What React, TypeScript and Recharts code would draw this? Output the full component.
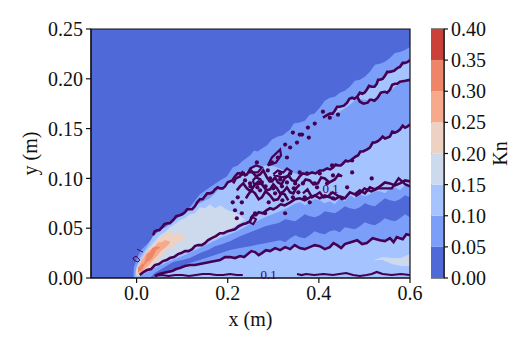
import React from "react";
import { ComposedChart, BarChart, Bar, Area, Line, Scatter, XAxis, YAxis, ReferenceArea, ReferenceDot } from "recharts";

const FONT = "'Liberation Serif', serif";
const INK = "#111111";
const PURPLE = "#440154";
const COLORS = ["#4f69d9", "#7b9ff9", "#a5c3fe", "#cdd9ec", "#edd1c2", "#f7a98b", "#ee8468", "#cc403a"];

const xTicks = [0, 0.2, 0.4, 0.6];
const yTicks = [0, 0.05, 0.1, 0.15, 0.2, 0.25];
const barTicks = [0, 0.05, 0.1, 0.15, 0.2, 0.25, 0.3, 0.35, 0.4];
const levels = [0.05, 0.05, 0.05, 0.05, 0.05, 0.05, 0.05, 0.05];

type P = number[];

const bgEdge: P[] = [[-0.1, 0.25], [0.6, 0.25]];

const outerEdge: P[] = [[-0.007, 0], [-0.006, 0.01], [0.001, 0.02], [0.01, 0.028], [0.025, 0.035], [0.04, 0.043], [0.056, 0.048], [0.073, 0.055], [0.091, 0.061], [0.117, 0.071], [0.139, 0.084], [0.161, 0.091], [0.183, 0.098], [0.198, 0.102], [0.211, 0.111], [0.222, 0.113], [0.231, 0.117], [0.24, 0.12], [0.249, 0.123], [0.258, 0.128], [0.266, 0.127], [0.275, 0.13], [0.286, 0.133], [0.297, 0.139], [0.31, 0.142], [0.32, 0.143], [0.337, 0.149], [0.345, 0.155], [0.358, 0.156], [0.369, 0.158], [0.38, 0.164], [0.39, 0.165], [0.402, 0.171], [0.413, 0.178], [0.424, 0.181], [0.435, 0.182], [0.446, 0.186], [0.457, 0.188], [0.468, 0.192], [0.479, 0.198], [0.49, 0.199], [0.501, 0.202], [0.512, 0.207], [0.523, 0.214], [0.534, 0.215], [0.545, 0.217], [0.556, 0.221], [0.567, 0.226], [0.578, 0.227], [0.589, 0.229], [0.6, 0.232]];

const lightTopEdge: P[] = [[-0.003, 0.003], [-0.001, 0.01], [0.007, 0.02], [0.023, 0.031], [0.036, 0.042], [0.051, 0.048], [0.067, 0.052], [0.08, 0.056], [0.095, 0.062], [0.117, 0.068], [0.139, 0.075], [0.161, 0.08], [0.183, 0.09], [0.211, 0.1], [0.238, 0.107], [0.26, 0.111], [0.282, 0.113], [0.304, 0.112], [0.325, 0.108], [0.348, 0.105], [0.358, 0.103], [0.38, 0.106], [0.402, 0.108], [0.431, 0.111], [0.453, 0.115], [0.475, 0.12], [0.497, 0.127], [0.512, 0.131], [0.534, 0.139], [0.556, 0.142], [0.578, 0.149], [0.6, 0.154]];

const lightBottomEdge: P[] = [[0.007, 0.002], [0.023, 0.006], [0.04, 0.01], [0.073, 0.017], [0.106, 0.023], [0.139, 0.03], [0.183, 0.04], [0.216, 0.046], [0.249, 0.054], [0.282, 0.061], [0.315, 0.067], [0.33, 0.07], [0.345, 0.074], [0.358, 0.076], [0.37, 0.073], [0.38, 0.076], [0.39, 0.079], [0.402, 0.078], [0.412, 0.075], [0.424, 0.077], [0.435, 0.074], [0.446, 0.08], [0.457, 0.077], [0.468, 0.083], [0.479, 0.08], [0.49, 0.084], [0.501, 0.082], [0.512, 0.084], [0.523, 0.087], [0.534, 0.087], [0.545, 0.085], [0.556, 0.09], [0.567, 0.091], [0.578, 0.088], [0.589, 0.093], [0.6, 0.092]];

const darkTopEdge: P[] = [[0.029, 0], [0.04, 0.005], [0.062, 0.011], [0.08, 0.016], [0.1, 0.018], [0.117, 0.02], [0.139, 0.025], [0.157, 0.028], [0.172, 0.032], [0.187, 0.034], [0.205, 0.037], [0.227, 0.042], [0.249, 0.046], [0.266, 0.049], [0.282, 0.052], [0.299, 0.054], [0.31, 0.055], [0.315, 0.056], [0.326, 0.059], [0.337, 0.058], [0.348, 0.057], [0.358, 0.06], [0.369, 0.064], [0.38, 0.062], [0.391, 0.061], [0.402, 0.063], [0.413, 0.067], [0.424, 0.066], [0.435, 0.065], [0.446, 0.068], [0.457, 0.072], [0.468, 0.07], [0.479, 0.069], [0.49, 0.071], [0.501, 0.075], [0.512, 0.073], [0.523, 0.072], [0.534, 0.076], [0.545, 0.08], [0.556, 0.078], [0.567, 0.077], [0.578, 0.079], [0.589, 0.083], [0.6, 0.081]];

const darkBotEdge: P[] = [[0.029, 0], [0.051, 0.001], [0.08, 0.009], [0.1, 0.012], [0.117, 0.015], [0.139, 0.018], [0.172, 0.023], [0.205, 0.028], [0.227, 0.03], [0.249, 0.032], [0.282, 0.035], [0.315, 0.038], [0.326, 0.036], [0.337, 0.04], [0.348, 0.043], [0.358, 0.041], [0.369, 0.04], [0.38, 0.043], [0.391, 0.047], [0.402, 0.045], [0.413, 0.044], [0.424, 0.047], [0.435, 0.048], [0.446, 0.046], [0.457, 0.051], [0.468, 0.05], [0.479, 0.049], [0.49, 0.052], [0.501, 0.056], [0.512, 0.054], [0.523, 0.053], [0.534, 0.056], [0.545, 0.06], [0.556, 0.058], [0.567, 0.057], [0.578, 0.06], [0.589, 0.064], [0.6, 0.061]];

const paleBand: P[] = [[0.001, 0.002, 0.008], [0.006, 0.002, 0.014], [0.012, 0.004, 0.018], [0.02, 0.006, 0.026], [0.029, 0.008, 0.031], [0.04, 0.012, 0.037], [0.051, 0.014, 0.043], [0.062, 0.017, 0.046], [0.073, 0.019, 0.051], [0.084, 0.02, 0.054], [0.095, 0.023, 0.058], [0.106, 0.026, 0.06], [0.117, 0.028, 0.064], [0.128, 0.03, 0.065], [0.139, 0.033, 0.071], [0.15, 0.036, 0.07], [0.161, 0.038, 0.074], [0.172, 0.039, 0.07], [0.183, 0.042, 0.073], [0.2, 0.048, 0.068], [0.216, 0.052, 0.066], [0.238, 0.059, 0.059]];
const paleSpot: P[] = [[0.52, 0.018, 0.018], [0.54, 0.018, 0.021], [0.56, 0.014, 0.02], [0.58, 0.012, 0.02], [0.6, 0.012, 0.024]];
const beigeBand: P[] = [[-0.001, 0.003, 0.008], [0.007, 0.004, 0.016], [0.018, 0.006, 0.024], [0.029, 0.01, 0.03], [0.04, 0.016, 0.034], [0.051, 0.02, 0.04], [0.062, 0.026, 0.044], [0.073, 0.03, 0.047], [0.082, 0.031, 0.043], [0.091, 0.036, 0.046], [0.1, 0.036, 0.043], [0.108, 0.04, 0.04]];
const orangeBand: P[] = [[0.003, 0.004, 0.01], [0.012, 0.006, 0.018], [0.02, 0.01, 0.024], [0.029, 0.014, 0.028], [0.038, 0.019, 0.03], [0.047, 0.023, 0.036], [0.055, 0.028, 0.036], [0.062, 0.03, 0.038], [0.073, 0.035, 0.037]];
const salmonBand: P[] = [[0.003, 0.006, 0.01], [0.012, 0.008, 0.014], [0.017, 0.013, 0.015], [0.023, 0.016, 0.024], [0.03, 0.018, 0.026], [0.034, 0.02, 0.03], [0.043, 0.028, 0.032], [0.051, 0.03, 0.031]];
const loopBand: P[] = [[0.424, 0.163, 0.165], [0.446, 0.167, 0.172], [0.468, 0.174, 0.178], [0.484, 0.18, 0.182], [0.501, 0.179, 0.188], [0.516, 0.178, 0.191], [0.534, 0.183, 0.198], [0.556, 0.188, 0.206], [0.578, 0.196, 0.211], [0.6, 0.198, 0.218]];

const l1: P[] = [[0.036, 0.043], [0.04, 0.047], [0.045, 0.048], [0.05, 0.048], [0.056, 0.051], [0.061, 0.054], [0.067, 0.055], [0.073, 0.055], [0.08, 0.058], [0.087, 0.062], [0.095, 0.063], [0.1, 0.064], [0.106, 0.066], [0.111, 0.069], [0.117, 0.069], [0.122, 0.069], [0.128, 0.072], [0.133, 0.076], [0.139, 0.079], [0.145, 0.079], [0.15, 0.082], [0.155, 0.085], [0.161, 0.085], [0.167, 0.086], [0.172, 0.089], [0.178, 0.091], [0.183, 0.09], [0.189, 0.09], [0.194, 0.092], [0.2, 0.096], [0.205, 0.097], [0.21, 0.098], [0.216, 0.102], [0.222, 0.105], [0.227, 0.105], [0.232, 0.104], [0.238, 0.106]];
const l1b: P[] = [[0.409, 0.161], [0.416, 0.163], [0.424, 0.165], [0.43, 0.165], [0.435, 0.168], [0.44, 0.172], [0.446, 0.172], [0.455, 0.173], [0.462, 0.176], [0.467, 0.18], [0.473, 0.181], [0.478, 0.18], [0.484, 0.182], [0.49, 0.186], [0.495, 0.185], [0.5, 0.186], [0.505, 0.189], [0.51, 0.193], [0.516, 0.192], [0.522, 0.192], [0.527, 0.195], [0.53, 0.199], [0.534, 0.199], [0.54, 0.2], [0.545, 0.203], [0.55, 0.207], [0.556, 0.207], [0.565, 0.208], [0.573, 0.211], [0.578, 0.212], [0.584, 0.216], [0.589, 0.216], [0.595, 0.217], [0.6, 0.219]];
const l1c: P[] = [[0.484, 0.182], [0.49, 0.177], [0.498, 0.175], [0.507, 0.176], [0.512, 0.179], [0.516, 0.179], [0.522, 0.178], [0.529, 0.181], [0.536, 0.186], [0.545, 0.187], [0.55, 0.186], [0.556, 0.189], [0.561, 0.194], [0.567, 0.195], [0.572, 0.195], [0.578, 0.197], [0.59, 0.198], [0.6, 0.199]];
const s1: P[] = [[0.212, 0.095], [0.218, 0.1], [0.227, 0.102], [0.232, 0.106], [0.238, 0.103], [0.242, 0.104], [0.249, 0.109], [0.255, 0.106], [0.262, 0.102], [0.271, 0.104], [0.278, 0.108], [0.286, 0.101], [0.292, 0.097], [0.297, 0.097], [0.304, 0.101], [0.31, 0.096], [0.318, 0.094], [0.325, 0.1], [0.333, 0.103], [0.341, 0.098], [0.35, 0.097], [0.358, 0.102], [0.365, 0.105], [0.375, 0.104], [0.385, 0.106], [0.393, 0.105], [0.402, 0.108], [0.41, 0.108], [0.418, 0.11], [0.425, 0.109], [0.431, 0.111], [0.437, 0.114], [0.442, 0.113], [0.448, 0.113], [0.453, 0.115], [0.459, 0.118], [0.464, 0.117], [0.47, 0.118], [0.475, 0.12], [0.481, 0.122], [0.486, 0.123], [0.491, 0.127], [0.497, 0.127], [0.505, 0.129], [0.512, 0.131], [0.518, 0.136], [0.523, 0.136], [0.528, 0.137], [0.534, 0.139], [0.54, 0.142], [0.545, 0.14], [0.551, 0.141], [0.556, 0.142], [0.561, 0.147], [0.567, 0.146], [0.572, 0.147], [0.578, 0.149], [0.584, 0.153], [0.589, 0.151], [0.594, 0.152], [0.6, 0.154]];
const s2: P[] = [[0.22, 0.088], [0.227, 0.092], [0.234, 0.095], [0.242, 0.09], [0.25, 0.087], [0.26, 0.094], [0.268, 0.097], [0.277, 0.093], [0.285, 0.088], [0.293, 0.089], [0.3, 0.094], [0.308, 0.09], [0.315, 0.085], [0.323, 0.087], [0.33, 0.091], [0.337, 0.086], [0.344, 0.085], [0.35, 0.09], [0.358, 0.094]];
const s3: P[] = [[0.24, 0.08], [0.244, 0.083], [0.252, 0.088], [0.26, 0.085], [0.268, 0.079], [0.275, 0.081], [0.283, 0.087], [0.293, 0.083], [0.301, 0.078], [0.31, 0.079], [0.318, 0.085], [0.325, 0.084], [0.333, 0.078]];
const s4: P[] = [[0.249, 0.11], [0.262, 0.113], [0.275, 0.111], [0.266, 0.106], [0.249, 0.106], [0.249, 0.11]];
const s5: P[] = [[0.288, 0.113], [0.297, 0.121], [0.315, 0.129], [0.317, 0.123], [0.306, 0.116], [0.288, 0.113]];
const s6: P[] = [[0.363, 0.094], [0.371, 0.099], [0.38, 0.098], [0.388, 0.094], [0.398, 0.095], [0.405, 0.101], [0.413, 0.1], [0.423, 0.096], [0.435, 0.099], [0.443, 0.104], [0.451, 0.102]];
const s7: P[] = [[0.365, 0.085], [0.375, 0.089], [0.385, 0.081], [0.393, 0.083], [0.402, 0.086], [0.41, 0.081], [0.42, 0.082], [0.43, 0.086], [0.44, 0.083], [0.45, 0.08]];
const s8: P[] = [[0.255, 0.098], [0.262, 0.101], [0.272, 0.099], [0.275, 0.095], [0.266, 0.094], [0.258, 0.094], [0.255, 0.098]];
const s9: P[] = [[0.3, 0.104], [0.31, 0.108], [0.322, 0.106], [0.33, 0.11], [0.34, 0.107], [0.332, 0.102], [0.318, 0.101], [0.3, 0.104]];
const l3: P[] = [[0.007, 0.003], [0.015, 0.006], [0.023, 0.008], [0.032, 0.009], [0.04, 0.013], [0.049, 0.014], [0.058, 0.017], [0.066, 0.018], [0.073, 0.02], [0.082, 0.021], [0.091, 0.024], [0.098, 0.025], [0.106, 0.027], [0.114, 0.027], [0.122, 0.029], [0.128, 0.032], [0.135, 0.033], [0.143, 0.033], [0.15, 0.035], [0.157, 0.038], [0.165, 0.04], [0.174, 0.042], [0.183, 0.045], [0.191, 0.045], [0.2, 0.047], [0.208, 0.048], [0.216, 0.049], [0.224, 0.052], [0.233, 0.054], [0.241, 0.055], [0.249, 0.057], [0.252, 0.061], [0.256, 0.063], [0.262, 0.063], [0.268, 0.066], [0.277, 0.065], [0.285, 0.068], [0.293, 0.07], [0.3, 0.069], [0.308, 0.071], [0.316, 0.074], [0.325, 0.073], [0.337, 0.076], [0.347, 0.079], [0.358, 0.08], [0.369, 0.078], [0.38, 0.081], [0.391, 0.083], [0.402, 0.08], [0.413, 0.083], [0.424, 0.081], [0.435, 0.079], [0.446, 0.082], [0.457, 0.08], [0.468, 0.086], [0.479, 0.084], [0.49, 0.088], [0.501, 0.085], [0.512, 0.091], [0.523, 0.089], [0.534, 0.092], [0.545, 0.096], [0.556, 0.095], [0.567, 0.093], [0.578, 0.095], [0.589, 0.098], [0.6, 0.097]];
const l3loop: P[] = [[0.247, 0.056], [0.255, 0.061], [0.262, 0.059], [0.256, 0.054], [0.247, 0.056]];
const l3twin: P[] = [[0.48, 0.082], [0.49, 0.085], [0.5, 0.09], [0.515, 0.087], [0.53, 0.09], [0.545, 0.09], [0.56, 0.09], [0.575, 0.1], [0.59, 0.094], [0.6, 0.092]];
const l4: P[] = [[0.04, 0.002], [0.05, 0.004], [0.058, 0.005], [0.068, 0.006], [0.078, 0.007], [0.087, 0.009], [0.095, 0.01], [0.106, 0.012], [0.117, 0.013], [0.128, 0.013], [0.139, 0.014], [0.15, 0.015], [0.161, 0.016], [0.172, 0.017], [0.183, 0.018], [0.194, 0.021], [0.205, 0.021], [0.216, 0.02], [0.227, 0.022], [0.236, 0.021], [0.244, 0.024], [0.252, 0.027], [0.26, 0.026], [0.268, 0.023], [0.275, 0.025], [0.284, 0.028], [0.293, 0.027], [0.304, 0.03], [0.315, 0.028], [0.326, 0.031], [0.337, 0.029], [0.347, 0.033], [0.358, 0.03], [0.369, 0.029], [0.38, 0.031], [0.391, 0.033], [0.402, 0.032], [0.413, 0.029], [0.424, 0.031], [0.432, 0.035], [0.44, 0.033], [0.449, 0.03], [0.457, 0.034], [0.47, 0.036], [0.484, 0.038], [0.495, 0.034], [0.505, 0.035], [0.518, 0.04], [0.534, 0.038], [0.545, 0.037], [0.556, 0.04], [0.564, 0.036], [0.571, 0.041], [0.584, 0.039], [0.592, 0.044], [0.6, 0.043]];
const l5a: P[] = [[0.04, 0.002], [0.055, 0.003], [0.07, 0.002], [0.085, 0.003], [0.1, 0.003], [0.115, 0.002], [0.13, 0.003], [0.145, 0.004], [0.16, 0.004], [0.175, 0.003], [0.19, 0.003], [0.205, 0.004], [0.22, 0.003], [0.233, 0.003]];
const l5b: P[] = [[0.352, 0.004], [0.362, 0.003], [0.372, 0.004], [0.39, 0.003], [0.41, 0.004], [0.431, 0.003], [0.445, 0.004], [0.46, 0.005], [0.475, 0.003], [0.49, 0.002], [0.505, 0.003], [0.516, 0.004], [0.527, 0.006], [0.54, 0.004], [0.56, 0.003], [0.58, 0.004], [0.6, 0.003]];
const h1: P[] = [[0.001, 0.029], [0.014, 0.026]];
const h2: P[] = [[-0.008, 0.02], [-0.001, 0.022], [0.007, 0.018], [0.003, 0.016], [-0.006, 0.018], [-0.008, 0.02]];

const spots: P[] = [[0.343, 0.146], [0.358, 0.144], [0.352, 0.136], [0.326, 0.134], [0.337, 0.131], [0.33, 0.121], [0.297, 0.116], [0.288, 0.108], [0.264, 0.116], [0.211, 0.076], [0.222, 0.081], [0.231, 0.076], [0.216, 0.068], [0.231, 0.065], [0.26, 0.065], [0.282, 0.065], [0.22, 0.06], [0.337, 0.105], [0.358, 0.106], [0.374, 0.105], [0.315, 0.105], [0.343, 0.081], [0.326, 0.065], [0.365, 0.095], [0.391, 0.095], [0.402, 0.105], [0.429, 0.113], [0.431, 0.103], [0.473, 0.106], [0.516, 0.1], [0.473, 0.118], [0.418, 0.095], [0.462, 0.091], [0.38, 0.076], [0.369, 0.081], [0.396, 0.091], [0.431, 0.08], [0.451, 0.08], [0.409, 0.167], [0.424, 0.161], [0.442, 0.164], [0.391, 0.155], [0.376, 0.151], [0.363, 0.144], [0.378, 0.141], [0.31, 0.121], [0.275, 0.096], [0.293, 0.1], [0.249, 0.095], [0.319, 0.092], [0.348, 0.095], [0.271, 0.088], [0.304, 0.085], [0.238, 0.098], [0.283, 0.092], [0.3, 0.09], [0.315, 0.099], [0.33, 0.096], [0.265, 0.091], [0.25, 0.092], [0.345, 0.09], [0.29, 0.076], [0.32, 0.078], [0.355, 0.086]];

const toLine = (pts: P[]) => pts.map(([x, y]) => ({ x, y }));
const toBand = (pts: P[]) => pts.map(([x, lo, hi]) => ({ x, y: [lo, hi] }));

const fills: [P[], string][] = [
  [bgEdge, COLORS[0]],
  [outerEdge, COLORS[1]],
  [lightTopEdge, COLORS[2]],
  [lightBottomEdge, COLORS[1]],
  [darkTopEdge, COLORS[0]],
  [darkBotEdge, COLORS[1]],
  [l4, COLORS[2]],
];
const bands: [P[], string][] = [
  [loopBand, COLORS[2]],
  [paleSpot, COLORS[3]],
  [paleBand, COLORS[3]],
  [beigeBand, COLORS[4]],
  [orangeBand, COLORS[5]],
  [salmonBand, COLORS[6]],
];
const contours: [P[], number][] = [
  [l1, 2.6], [l1b, 2.6], [l1c, 2.6], [s1, 2.6], [s2, 2.6], [s3, 2.6], [s4, 2.2], [s5, 2.2], [s6, 2.6], [s7, 2.4],
  [s8, 2.2], [s9, 2.2], [l3, 2.6], [l3loop, 2], [l3twin, 2.4], [l4, 2.6], [l5a, 2.2], [l5b, 2.2], [h1, 1], [h2, 1],
];

const tickStyle = { fontFamily: FONT, fontSize: 20, fill: INK };
const labelStyle = { fontFamily: FONT, fontSize: 20, fill: INK };
const axisLine = { stroke: INK, strokeWidth: 1.2 };
const colorbarRow = [Object.fromEntries(levels.map((v, i) => [`l${i}`, v] as [string, any]).concat([["name", "Kn"]]))];

export default function App() {
  return (
    <div style={{ position: "absolute", left: 0, top: 0, width: 531, height: 354 }}>
      <div style={{ position: "absolute", left: 0, top: 0 }}>
        <ComposedChart width={431} height={354} margin={{ top: 29, right: 21, bottom: 0, left: 0 }}>
          <XAxis type="number" dataKey="x" domain={[-0.1, 0.6]} ticks={xTicks} interval={0} height={76}
            tick={tickStyle} tickFormatter={(v: number) => v.toFixed(1)} axisLine={axisLine} tickLine={axisLine} tickSize={5} tickMargin={3}
            allowDataOverflow label={{ value: "x (m)", position: "insideBottom", offset: 28, style: labelStyle }} />
          <YAxis type="number" domain={[0, 0.25]} ticks={yTicks} interval={0} width={91}
            tick={tickStyle} tickFormatter={(v: number) => v.toFixed(2)} axisLine={axisLine} tickLine={axisLine} tickSize={5} tickMargin={3}
            allowDataOverflow label={{ value: "y (m)", angle: -90, position: "insideLeft", offset: 30, style: { ...labelStyle, textAnchor: "middle" } }} />
          {fills.map(([pts, c], i) => (
            <Area key={`f${i}`} data={toLine(pts)} dataKey="y" type="linear" fill={c} fillOpacity={1} stroke="none" isAnimationActive={false} dot={false} activeDot={false} />
          ))}
          {bands.map(([pts, c], i) => (
            <Area key={`b${i}`} data={toBand(pts)} dataKey="y" type="linear" fill={c} fillOpacity={1} stroke="none" isAnimationActive={false} dot={false} activeDot={false} />
          ))}
          {contours.map(([pts, w], i) => (
            <Line key={`c${i}`} data={toLine(pts)} dataKey="y" type="linear" stroke={PURPLE} strokeWidth={w} dot={false} activeDot={false} isAnimationActive={false} />
          ))}
          <Scatter data={toLine(spots)} dataKey="y" isAnimationActive={false}
            shape={(p: any) => <circle cx={p.cx} cy={p.cy} r={2.1} fill={PURPLE} />} />
          <ReferenceDot x={0.29} y={0.004} r={0} stroke="none" fill="none"
            label={{ value: "0.1", position: "center", fontFamily: FONT, fontSize: 13, fill: PURPLE }} />
          <ReferenceDot x={0.426} y={0.09} r={0} stroke="none" fill="none"
            label={{ value: "0.1", position: "center", fontFamily: FONT, fontSize: 13, fill: PURPLE }} />
          <ReferenceArea x1={-0.1} x2={0.6} y1={0} y2={0.25} fill="none" stroke={INK} strokeWidth={1.2} />
        </ComposedChart>
      </div>
      <div style={{ position: "absolute", left: 431, top: 0 }}>
        <BarChart width={100} height={354} data={colorbarRow} barCategoryGap={0} margin={{ top: 29, right: 0, bottom: 76, left: 0 }}>
          <XAxis dataKey="name" hide />
          <YAxis orientation="right" type="number" domain={[0, 0.4]} ticks={barTicks} interval={0} width={87}
            tick={tickStyle} tickFormatter={(v: number) => v.toFixed(2)} axisLine={axisLine} tickLine={axisLine} tickSize={4} tickMargin={3}
            label={{ value: "Kn", angle: -90, position: "insideRight", offset: 31, style: { ...labelStyle, textAnchor: "middle" } }} />
          {levels.map((_, i) => (
            <Bar key={i} dataKey={`l${i}`} stackId="kn" fill={COLORS[i]} isAnimationActive={false} />
          ))}
          <ReferenceArea x1="Kn" x2="Kn" y1={0} y2={0.4} fill="none" stroke={INK} strokeWidth={1.2} />
        </BarChart>
      </div>
    </div>
  );
}
